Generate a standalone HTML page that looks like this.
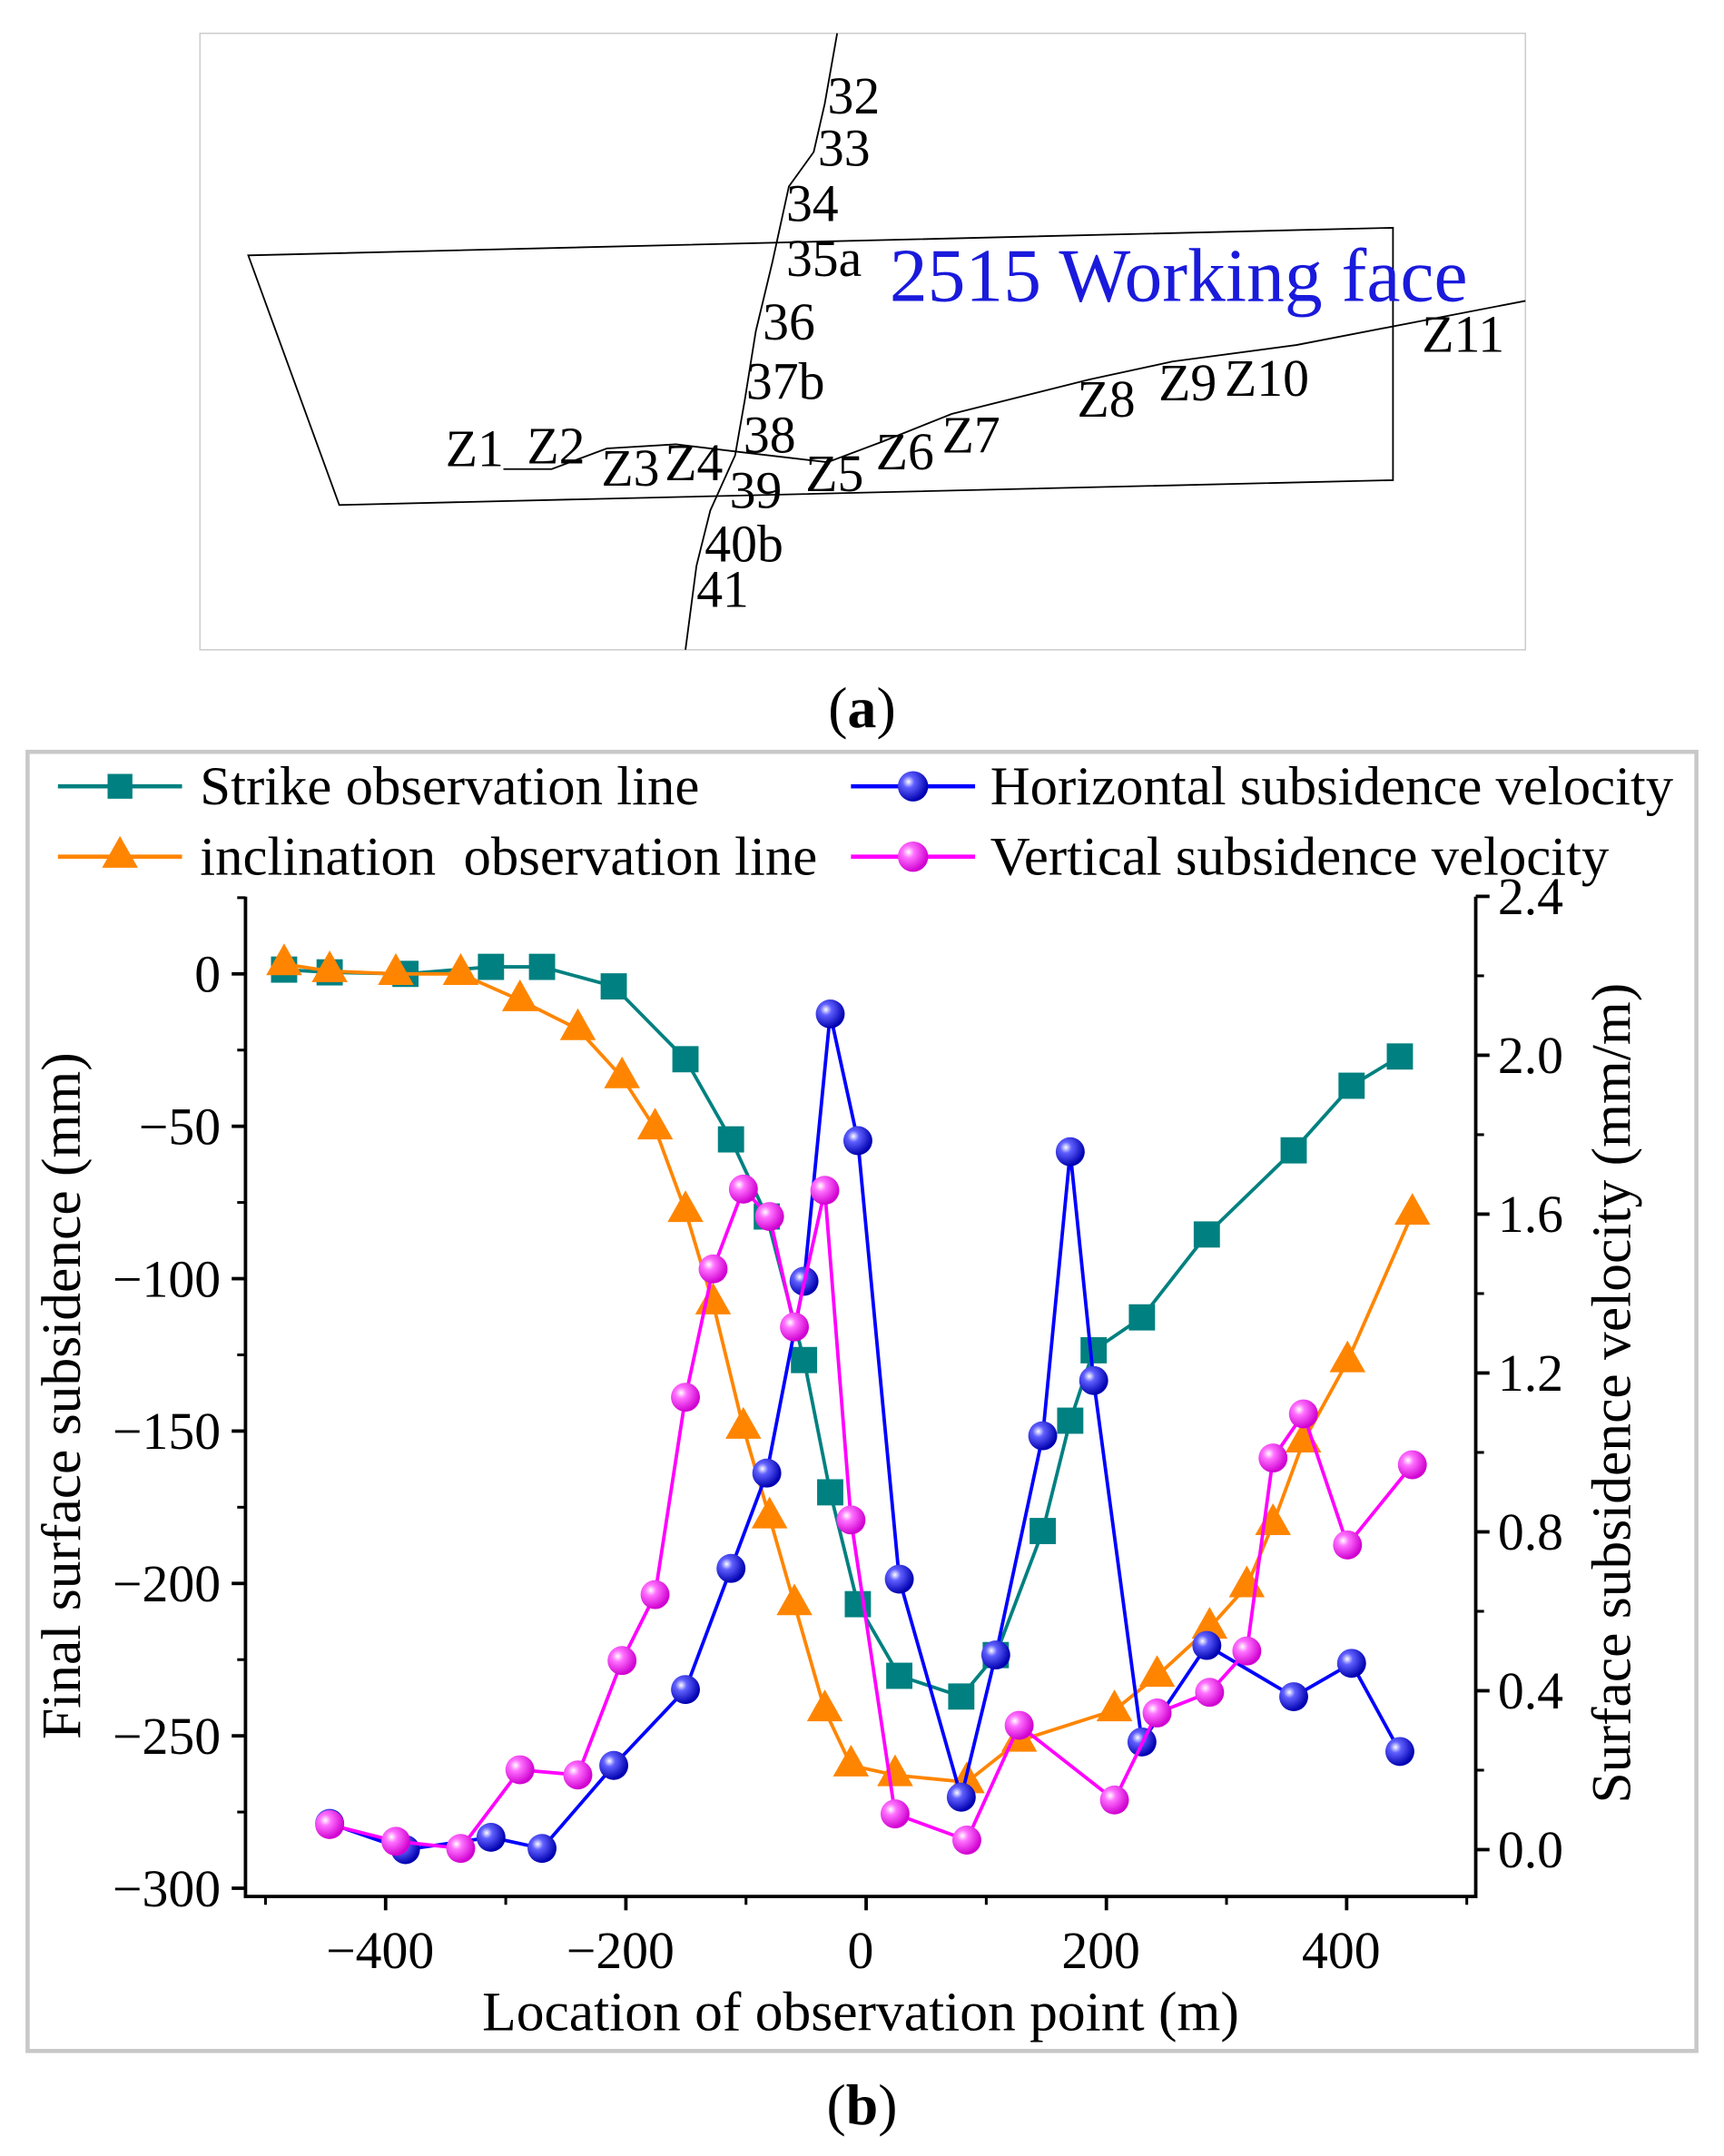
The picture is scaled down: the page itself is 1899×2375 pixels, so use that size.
<!DOCTYPE html>
<html><head><meta charset="utf-8"><style>
html,body{margin:0;padding:0;background:#fff;}
svg{display:block;font-family:"Liberation Serif",serif;}
</style></head><body>
<svg id="fig" width="1899" height="2375" viewBox="0 0 1250 1563" xmlns="http://www.w3.org/2000/svg">
<defs>
<radialGradient id="gb" cx="35%" cy="35%" r="65%"><stop offset="0" stop-color="#fff"/><stop offset="0.3" stop-color="#6060ff"/><stop offset="1" stop-color="#0000b0"/></radialGradient>
<radialGradient id="gm" cx="35%" cy="35%" r="65%"><stop offset="0" stop-color="#fff"/><stop offset="0.3" stop-color="#ff70ff"/><stop offset="1" stop-color="#d000d0"/></radialGradient>
</defs>
<g>
<rect x="145" y="24" width="961" height="447" fill="#fff" stroke="#ccc" stroke-width="1"/>
<polygon points="180,185 1010,165 1010,348 246,366" fill="none" stroke="#000" stroke-width="1.2"/>
<polyline points="607,24 598,75 590,110 572,135 560,190 548,240 540,290 533,330 515,370 505,410 497,471" fill="none" stroke="#000" stroke-width="1.2"/>
<polyline points="365,340 400,340 440,325 490,322 540,328 600,335 640,320 690,300 790,275 850,262 940,250 1106,218" fill="none" stroke="#000" stroke-width="1.2"/>
<g font-size="38" fill="#000">
<text x="600" y="82">32</text><text x="593" y="120">33</text><text x="570" y="160">34</text><text x="570" y="200">35a</text>
<text x="553" y="246">36</text><text x="541" y="289">37b</text><text x="539" y="328">38</text><text x="529" y="368">39</text>
<text x="511" y="407">40b</text><text x="505" y="440">41</text>
<text x="323" y="338">Z1</text><text x="382" y="336">Z2</text><text x="436" y="352">Z3</text><text x="482" y="348">Z4</text>
<text x="584" y="356">Z5</text><text x="635" y="340">Z6</text><text x="683" y="328">Z7</text><text x="781" y="302">Z8</text>
<text x="840" y="290">Z9</text><text x="888" y="287">Z10</text><text x="1031" y="255">Z11</text>
</g>
<text x="645" y="218" font-size="55" fill="#1a1adc">2515 Working face</text>
</g>
<text x="625" y="527" font-size="42" text-anchor="middle">(<tspan font-weight="bold">a</tspan>)</text>
<rect x="20" y="545" width="1210" height="942" fill="#fff" stroke="#c8c8c8" stroke-width="3"/>
<g id="chart"></g>
<g font-size="40">
<g><line x1="42" y1="570" x2="132" y2="570" stroke="#008080" stroke-width="3"/><rect x="78" y="561" width="18" height="18" fill="#008080"/><text x="145" y="583">Strike observation line</text></g>
<g><line x1="42" y1="621" x2="132" y2="621" stroke="#ff8500" stroke-width="3"/><polygon points="87,606 100,629 74,629" fill="#ff8500"/><text x="145" y="634" xml:space="preserve">inclination  observation line</text></g>
<g><line x1="617" y1="570" x2="707" y2="570" stroke="#0000ff" stroke-width="3"/><circle cx="662" cy="570" r="11" fill="url(#gb)"/><text x="718" y="583">Horizontal subsidence velocity</text></g>
<g><line x1="617" y1="621" x2="707" y2="621" stroke="#ff00ff" stroke-width="3"/><circle cx="662" cy="621" r="11" fill="url(#gm)"/><text x="718" y="634">Vertical subsidence velocity</text></g>
</g>
<text x="625" y="1540" font-size="42" text-anchor="middle">(<tspan font-weight="bold">b</tspan>)</text>
</svg>
<script>
const strikeX=[-484.5,-446.6,-383.5,-312.3,-269.8,-210.1,-150.4,-112.5,-82.7,-51.7,-29.9,-6.9,27.6,79.2,107.9,147,169.9,189.4,229.6,283.6,355.9,404.1,444.3];
const strikeY=[1.4,0.5,0,2.3,2.3,-4.1,-28,-54.3,-79.6,-126.7,-170.1,-206.8,-230.3,-237.1,-223.5,-182.8,-146.6,-123.5,-112.7,-85.5,-57.9,-36.7,-27.1];
const inclX=[-484.5,-446.6,-391.5,-337.5,-288.2,-240,-203.2,-175.7,-150.4,-127.4,-102.2,-80.4,-59.7,-34.4,-12.6,24.1,83.8,127.4,206.7,242.2,285.9,316.9,338.7,364,400.7,454.7];
const inclY=[3.2,0.9,0,0,-8.6,-18.1,-33.9,-50.7,-77.8,-108.1,-148.9,-178.3,-206.8,-241.6,-259.7,-262.9,-265.2,-251.6,-241.6,-230.3,-214.5,-200.9,-180.5,-153.4,-127.1,-78.7];
const horizX=[-446.6,-383.5,-312.3,-269.8,-210.1,-150.4,-112.5,-82.7,-51.7,-29.9,-6.9,27.6,79.2,107.9,147,169.9,189.4,229.6,283.6,355.9,404.1,444.3];
const horizV=[0.066,0.0,0.031,0.003,0.212,0.403,0.708,0.948,1.431,2.104,1.785,0.681,0.132,0.49,1.042,1.757,1.181,0.271,0.514,0.385,0.469,0.247];
const vertX=[-446.6,-391.5,-337.5,-288.2,-240,-203.2,-175.7,-150.4,-127.4,-102.2,-80.4,-59.7,-34.4,-12.6,24.1,83.8,127.4,206.7,242.2,285.9,316.9,338.7,364,400.7,454.7];
const vertV=[0.063,0.021,0.003,0.201,0.188,0.476,0.642,1.139,1.462,1.663,1.594,1.316,1.66,0.83,0.09,0.024,0.313,0.125,0.344,0.396,0.5,0.986,1.097,0.767,0.969];
const xTicks=[-400,-200,0,200,400];
const yTicks=[0,-50,-100,-150,-200,-250,-300];
const vTicks=[0.0,0.4,0.8,1.2,1.6,2.0,2.4];

const NS='http://www.w3.org/2000/svg';
const g=document.getElementById('chart');
const L=178,R=1070,T=650,B=1375;
const sx=v=>628+v*0.871;
const sy=v=>706-v*2.21;
const sv=v=>1341-v*288;
function mk(tag,attrs,parent){const e=document.createElementNS(NS,tag);for(const k in attrs)e.setAttribute(k,attrs[k]);(parent||g).appendChild(e);return e;}
let e;
e=mk('path',{d:`M${L},${T}V${B}H${R}V${T}`,fill:'none',stroke:'#000','stroke-width':2.5});


for(const t of xTicks){
 e=mk('line',{x1:sx(t),x2:sx(t),y1:B,y2:B+10,stroke:'#000','stroke-width':2.5});
 e=mk('line',{x1:sx(t+100),x2:sx(t+100),y1:B,y2:B+6,stroke:'#000','stroke-width':2});
 e=mk('text',{x:sx(t)-4,y:B+52,'font-size':38,'text-anchor':'middle'});e.textContent=t<0?'\u2212'+(-t):t;
 
 
}
e=mk('line',{x1:sx(-500),x2:sx(-500),y1:B,y2:B+6,stroke:'#000','stroke-width':2});
for(const t of yTicks){
 e=mk('line',{x1:L-10,x2:L,y1:sy(t),y2:sy(t),stroke:'#000','stroke-width':2.5});
 if(t>-300)mk('line',{x1:L-6,x2:L,y1:sy(t-25),y2:sy(t-25),stroke:'#000','stroke-width':2});
 e=mk('text',{x:L-18,y:sy(t)+13,'font-size':38,'text-anchor':'end'});e.textContent=t<0?'\u2212'+(-t):t;
 
 
}
mk('line',{x1:L-6,x2:L,y1:sy(25),y2:sy(25),stroke:'#000','stroke-width':2});
for(const t of vTicks){
 e=mk('line',{x1:R,x2:R+10,y1:sv(t),y2:sv(t),stroke:'#000','stroke-width':2.5});
 if(t<2.4)mk('line',{x1:R,x2:R+6,y1:sv(t+0.2),y2:sv(t+0.2),stroke:'#000','stroke-width':2});
 e=mk('text',{x:R+16,y:sv(t)+13,'font-size':38});e.textContent=t.toFixed(1);
 
 
}
e=mk('text',{x:624,y:1472,'font-size':40.5,'text-anchor':'middle'});e.textContent='Location of observation point (m)';


e=mk('text',{x:0,y:0,'font-size':40.5,'text-anchor':'middle',transform:'translate(58,1012) rotate(-90)'});e.textContent='Final surface subsidence (mm)';


e=mk('text',{x:0,y:0,'font-size':40.5,'text-anchor':'middle',transform:'translate(1182,1010) rotate(-90)'});e.textContent='Surface subsidence velocity (mm/m)';



function series(xs,ys,fy,color,marker,name){
 const sg=mk('g',{});
 
 
 e=mk('polyline',{points:xs.map((x,i)=>sx(x)+','+fy(ys[i])).join(' '),fill:'none',stroke:color,'stroke-width':2.5},sg);
 
 
 xs.forEach((x,i)=>{
  const px=sx(x),py=fy(ys[i]);
  if(marker==='sq')e=mk('rect',{x:px-9.5,y:py-9.5,width:19,height:19,fill:color},sg);
  else if(marker==='tri')e=mk('polygon',{points:`${px},${py-15} ${px+13},${py+8} ${px-13},${py+8}`,fill:color},sg);
  else e=mk('circle',{cx:px,cy:py,r:10.5,fill:marker},sg);
  
  
 });
}
series(strikeX,strikeY,sy,'#008080','sq','strike-series');
series(inclX,inclY,sy,'#ff8500','tri','inclination-series');
series(horizX,horizV,sv,'#0000ff','url(#gb)','horizontal-velocity-series');
series(vertX,vertV,sv,'#ff00ff','url(#gm)','vertical-velocity-series');
</script>
</body></html>
